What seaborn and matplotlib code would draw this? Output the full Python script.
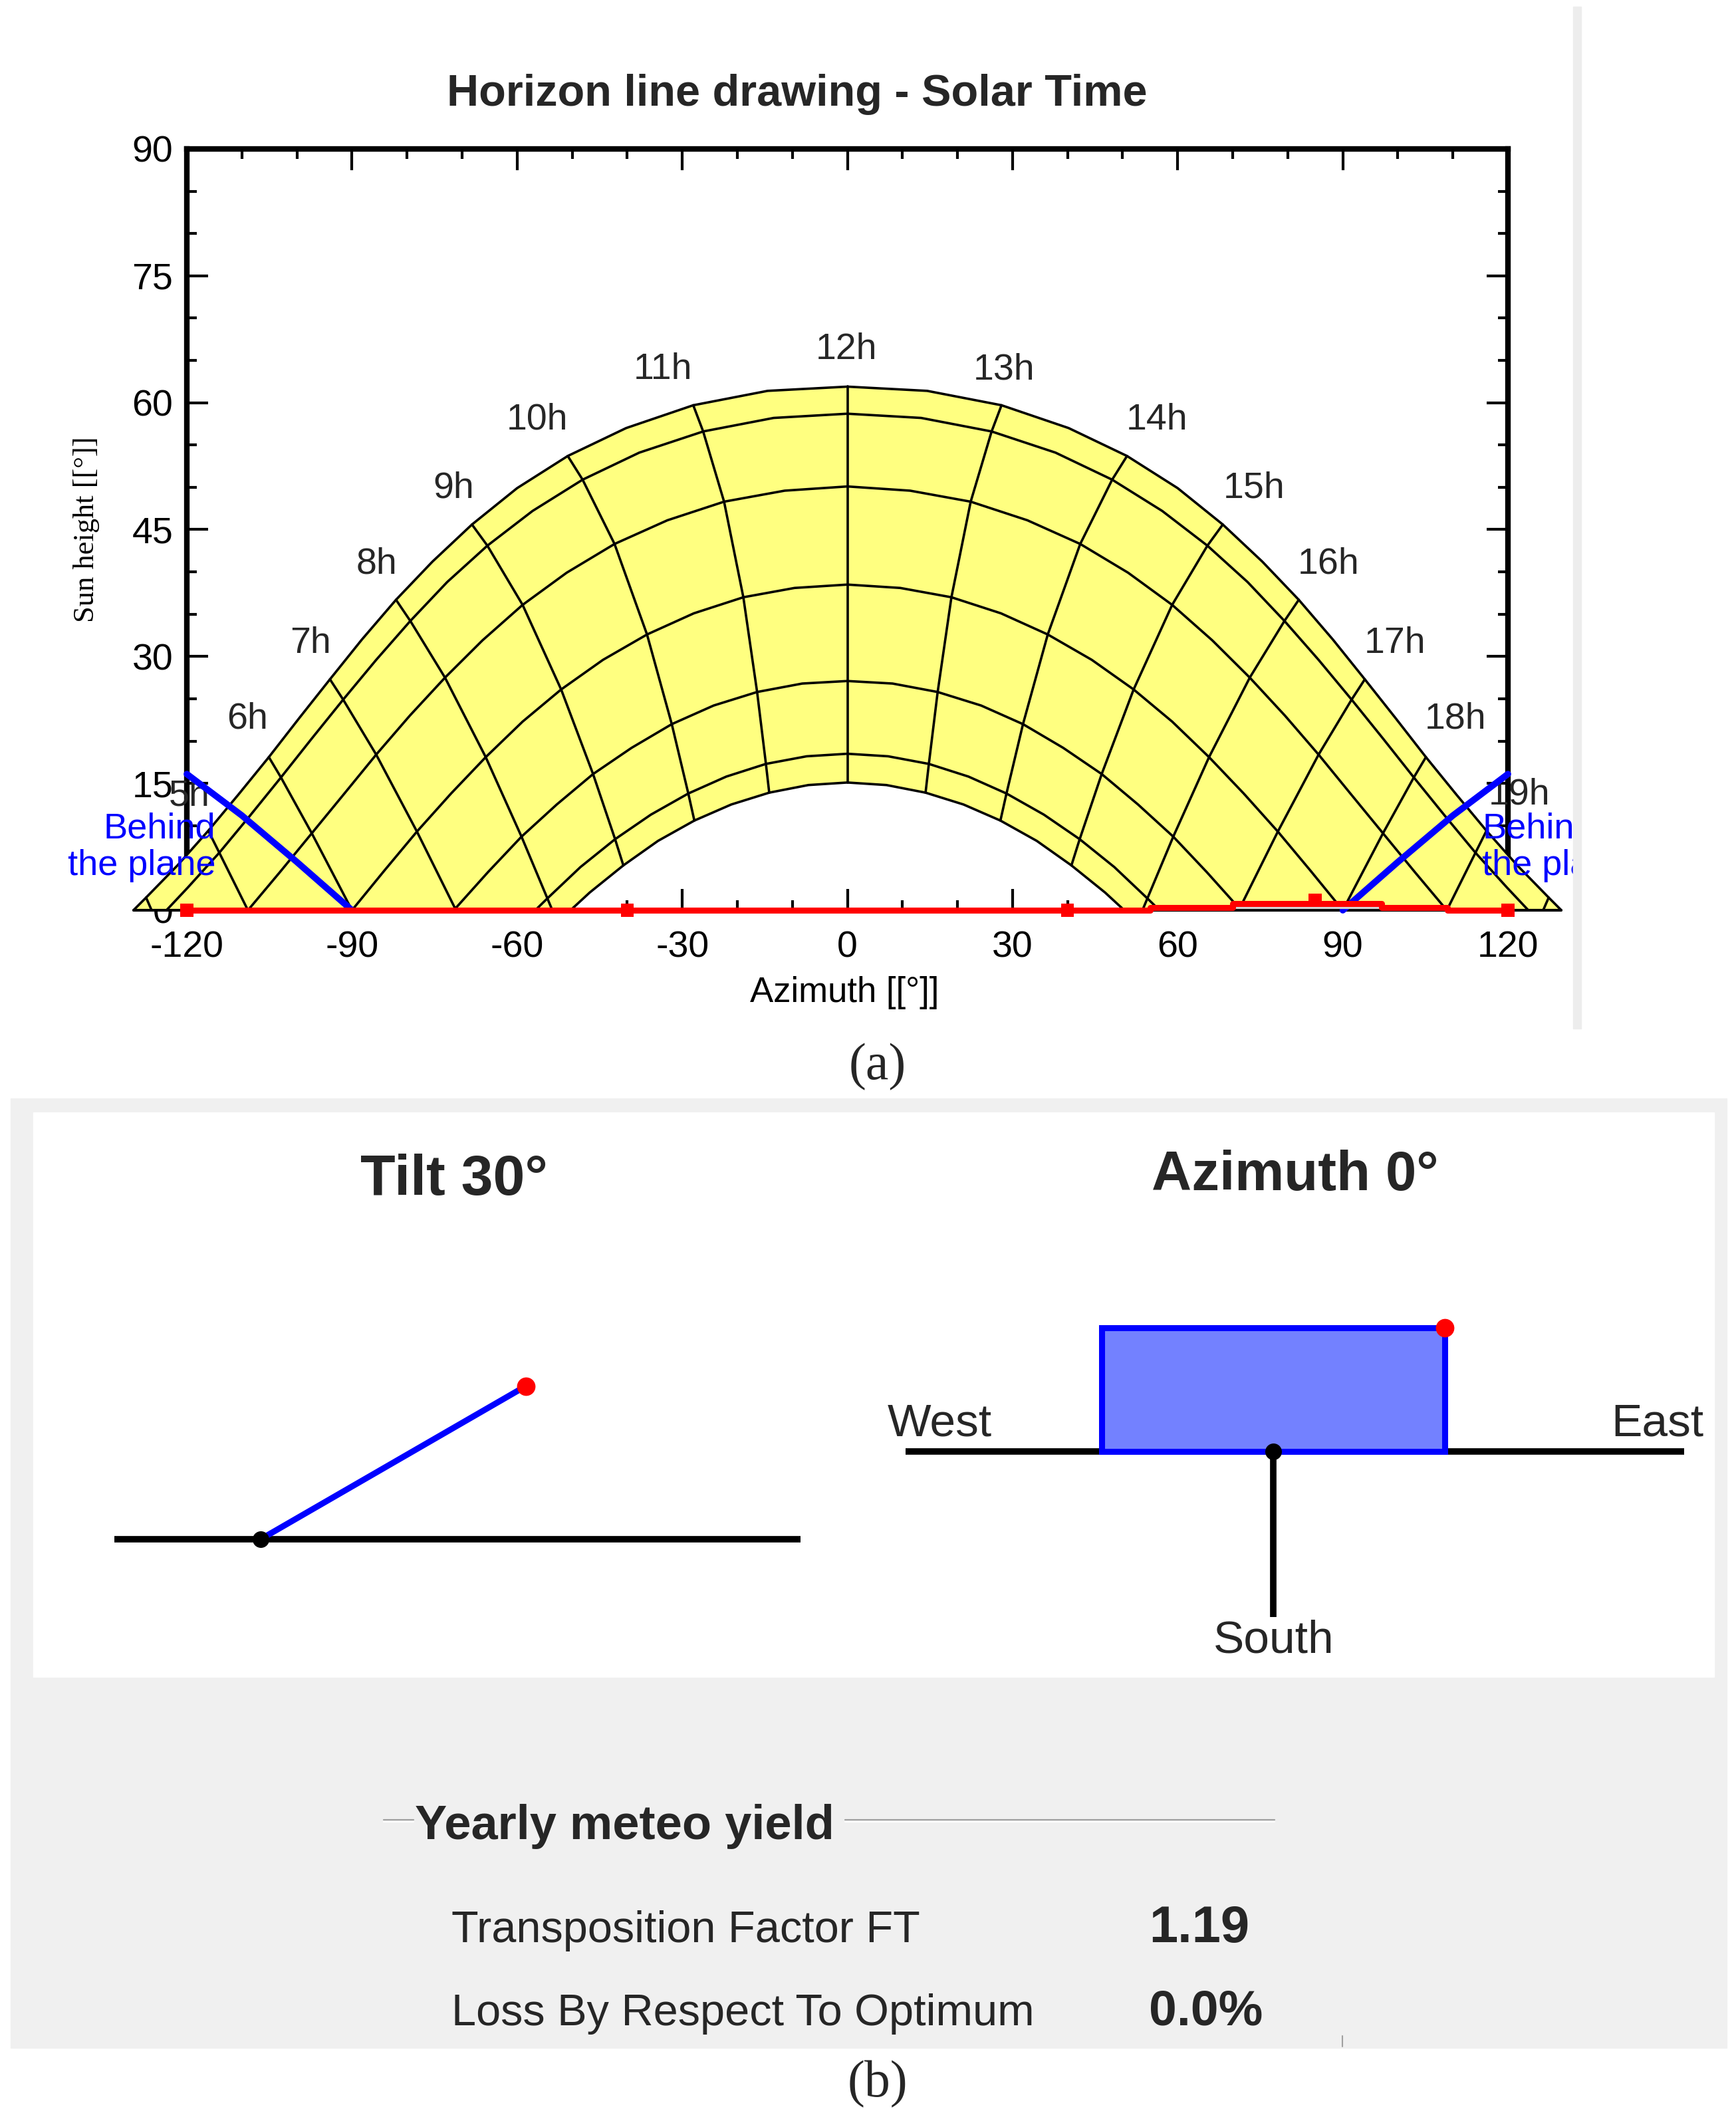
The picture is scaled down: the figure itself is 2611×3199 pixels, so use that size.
import matplotlib.pyplot as plt
import numpy as np
import pandas as pd
import seaborn as sns
from matplotlib.patches import Rectangle, Polygon
from matplotlib.lines import Line2D
from matplotlib.ticker import MultipleLocator

# sun path: afternoon half, every half hour from 12h,
# the morning side is its mirror
pm_times = [12, 12.5, 13, 13.5, 14, 14.5, 15, 15.5, 16, 16.5, 17, 17.5, 18, 18.5, 19, 19.5, 20]

jun_az = [0.0, 14.5, 28.0, 40.2, 50.8, 60.0, 68.2, 75.4, 82.0, 88.2, 94.0, 99.6, 105.1,
          110.6, 116.1, 121.7, 127.4]
jun_alt = [61.9, 61.4, 59.7, 57.0, 53.7, 49.9, 45.6, 41.2, 36.7, 32.0, 27.3, 22.7, 18.1,
           13.7, 9.4, 5.3, 1.5]
may_az = [0.0, 13.4, 26.2, 37.8, 48.1, 57.2, 65.4, 72.7, 79.4, 85.6, 91.6, 97.3, 102.9,
          108.5, 114.1, 119.8]
may_alt = [58.7, 58.2, 56.6, 54.1, 50.9, 47.2, 43.1, 38.8, 34.2, 29.6, 24.9, 20.3, 15.7,
           11.2, 6.8, 2.7]
apr_az = [0.0, 11.4, 22.4, 32.7, 42.3, 51.0, 59.0, 66.3, 73.1, 79.5, 85.6, 91.5, 97.3, 103.1]
apr_alt = [50.1, 49.6, 48.3, 46.1, 43.3, 39.9, 36.1, 31.9, 27.5, 23.0, 18.4, 13.7, 9.1, 4.5]
mar_az = [0.0, 9.6, 18.9, 27.9, 36.4, 44.4, 52.0, 59.0, 65.7, 72.0, 78.2, 84.1]
mar_alt = [38.5, 38.1, 37.0, 35.1, 32.6, 29.6, 26.1, 22.3, 18.1, 13.8, 9.3, 4.7]
feb_az = [0.0, 8.2, 16.4, 24.3, 31.9, 39.2, 46.2, 52.8, 59.2, 65.3]
feb_alt = [27.1, 26.8, 25.8, 24.2, 22.0, 19.2, 16.1, 12.5, 8.7, 4.5]
jan_az = [0.0, 7.4, 14.8, 22.0, 28.9, 35.7, 42.2, 48.5, 54.5]
jan_alt = [18.5, 18.2, 17.3, 15.8, 13.8, 11.3, 8.4, 5.1, 1.4]
dec_az = [0.0, 7.1, 14.2, 21.1, 27.8, 34.4, 40.7, 46.8]
dec_alt = [15.1, 14.8, 13.9, 12.5, 10.6, 8.2, 5.3, 2.1]

# azimuth where each date line reaches the horizon
set_az = [129.7, 123.7, 108.9, 90.0, 71.5, 56.7, 50.3]
# late hour lines that end on the horizon
end_hours = [16, 17, 18, 19, 20]
end_az = [53.6, 71.1, 90.0, 108.9, 126.4]

hour_labels = ["5h", "6h", "7h", "8h", "9h", "10h", "11h", "12h",
               "13h", "14h", "15h", "16h", "17h", "18h", "19h"]
lab_az = [-119.5, -109.0, -97.5, -85.5, -71.5, -56.4, -33.5, -0.2,
          28.5, 56.2, 73.9, 87.4, 99.5, 110.5, 122.1]
lab_alt = [13.5, 22.6, 31.5, 40.9, 49.9, 58.0, 63.9, 66.3,
           63.9, 57.9, 49.9, 40.9, 31.5, 22.6, 13.6]

# "behind the plane" limit (left side, right side is the mirror)
behind_az = [-120, -110, -100, -90]
behind_alt = [16.1, 11.2, 5.7, 0.0]

# horizon profile (red) and its points
horizon_az = [-120, -40, 40, 55, 55, 70, 70, 97, 97, 109, 109, 120]
horizon_alt = [0, 0, 0, 0, 0.3, 0.3, 0.75, 0.75, 0.3, 0.3, 0, 0]
hmark_az = [-120, -40, 40, 85, 120]
hmark_alt = [0, 0, 0, 1.2, 0]
old_az = [70, 97]
old_alt = [0.3, 0.3]

# panel (b)
tilt_deg = 30
azim_deg = 0
transp_factor = 1.19
loss_opt = 0.0

sns.set_theme(style="white")
plt.rcParams['font.family'] = ['Liberation Sans', 'DejaVu Sans']
plt.rcParams['axes.unicode_minus'] = False

W, H = 2611, 3199
fig = plt.figure(figsize=(W / 100, H / 100), dpi=100)


def fr(x0, y0, x1, y1):
    # pixel box (origin top left) -> figure fraction rect
    return [x0 / W, 1 - y1 / H, (x1 - x0) / W, (y1 - y0) / H]


# ---------------- (a) horizon line drawing ----------------
ax = fig.add_axes(fr(281, 224, 2268, 1369))

dates_az = [jun_az, may_az, apr_az, mar_az, feb_az, jan_az, dec_az]
dates_alt = [jun_alt, may_alt, apr_alt, mar_alt, feb_alt, jan_alt, dec_alt]

rows = []
for i, (az, alt, s) in enumerate(zip(dates_az, dates_alt, set_az)):
    xs = [-s] + [-a for a in az[:0:-1]] + az + [s]
    ys = [0.0] + alt[:0:-1] + alt + [0.0]
    rows += [dict(az=x, alt=y, line=f"d{i}") for x, y in zip(xs, ys)]
for k, t in enumerate(pm_times):
    if t != int(t):
        continue
    h = int(t)
    pts = [(az[k], alt[k]) for az, alt in zip(dates_az, dates_alt) if len(az) > k]
    if h in end_hours:
        pts.append((end_az[end_hours.index(h)], 0.0))
    rows += [dict(az=x, alt=y, line=f"h{h}") for x, y in pts]
    if h != 12:
        rows += [dict(az=-x, alt=y, line=f"h{24 - h}") for x, y in pts]
grid = pd.DataFrame(rows)

jun = grid[grid.line == "d0"]
dec = grid[grid.line == "d6"]
ax.fill(np.r_[jun.az.to_numpy(), dec.az.to_numpy()[::-1]],
        np.r_[jun.alt.to_numpy(), dec.alt.to_numpy()[::-1]],
        color="#FFFF80", lw=0, zorder=3, clip_on=False)

sns.lineplot(data=grid, x="az", y="alt", units="line", estimator=None, sort=False,
             color="black", lw=2.6, ax=ax, zorder=3.2)

ax.plot([-set_az[0], set_az[0]], [0, 0], color="black", lw=3, zorder=3.3)

blue = pd.DataFrame({"az": behind_az + [-a for a in behind_az[::-1]],
                     "alt": behind_alt + behind_alt[::-1],
                     "side": ["l"] * 4 + ["r"] * 4})
sns.lineplot(data=blue, x="az", y="alt", units="side", estimator=None, sort=False,
             color="#0000FF", lw=7, ax=ax, zorder=5)

ax.plot(old_az, old_alt, color="#D4D4D4", lw=3, zorder=5.5)
sns.lineplot(x=horizon_az, y=horizon_alt, estimator=None, sort=False,
             color="#FF0000", lw=6.5, ax=ax, zorder=6)
sns.scatterplot(x=hmark_az, y=hmark_alt, marker="s", s=200, color="#FF0000",
                edgecolor="none", ax=ax, zorder=6.5)

for art in ax.lines + ax.collections:
    art.set_clip_on(False)

for t, x, y in zip(hour_labels, lab_az, lab_alt):
    ax.text(x, y, t, fontsize=40, ha="center", va="center", zorder=4)

ax.text(-114.8, 8.55, "Behind", color="#0000FF", fontsize=39, ha="right", zorder=4)
ax.text(-114.8, 4.2, "the plane", color="#0000FF", fontsize=39, ha="right", zorder=4)
ax.text(115.3, 8.55, "Behind", color="#0000FF", fontsize=39, ha="left", zorder=4)
ax.text(115.3, 4.2, "the plane", color="#0000FF", fontsize=39, ha="left", zorder=4)

ax.set_xlim(-120, 120)
ax.set_ylim(0, 90)
ax.set_xticks(range(-120, 121, 30))
ax.set_yticks(range(0, 91, 15))
ax.xaxis.set_minor_locator(MultipleLocator(10))
ax.yaxis.set_minor_locator(MultipleLocator(5))
ax.tick_params(which="both", direction="in", top=True, right=True, bottom=True, left=True,
               width=3, color="black", labelsize=40, labelcolor="black")
ax.tick_params(which="major", length=23)
ax.tick_params(which="minor", length=11)
ax.tick_params(axis="x", pad=22)
ax.tick_params(axis="y", pad=15)
for sp in ax.spines.values():
    sp.set_linewidth(6)
    sp.set_color("black")
ax.spines["bottom"].set_visible(False)

ax.set_xlabel("Azimuth [[°]]", fontsize=38, color="black")
ax.xaxis.set_label_coords(0.498, -0.0865)
ax.set_ylabel("Sun height [[°]]", fontsize=32, color="black",
              family=["Liberation Serif", "DejaVu Serif"])
ax.yaxis.set_label_coords(-0.066, 0.5)

fig.text(1199 / W, 1 - 159 / H, "Horizon line drawing - Solar Time", fontsize=48,
         fontweight="bold", ha="center", va="baseline")

# window edge on the right of (a)
fig.add_artist(Rectangle((2366 / W, 1 - 1600 / H), (W - 2366) / W, 1600 / H,
                         transform=fig.transFigure, color="white", zorder=1.1))
fig.add_artist(Rectangle((2366 / W, 1 - 1547 / H), 12 / W, (1547 - 10) / H,
                         transform=fig.transFigure, color="#EDEDED", zorder=1.2))

serif = ["Liberation Serif", "DejaVu Serif"]
fig.text(1320 / W, 1 - 1605 / H, "(a)", fontsize=56, family=serif, ha="center", va="center")
fig.text(1320 / W, 1 - 3135 / H, "(b)", fontsize=56, family=serif, ha="center", va="center")

# ---------------- (b) orientation panel ----------------
fig.add_artist(Rectangle((16 / W, 1 - 3080 / H), (2597 - 16) / W, (3080 - 1652) / H,
                         transform=fig.transFigure, color="#F0F0F0", zorder=-1))
fig.add_artist(Rectangle((50 / W, 1 - 2522 / H), (2578 - 50) / W, (2522 - 1673) / H,
                         transform=fig.transFigure, color="white", zorder=-0.9))

# tilt sketch (units = pixels, pivot at origin)
axt = fig.add_axes(fr(100, 1700, 1300, 2500))
axt.set_xlim(-291.6, 908.4)
axt.set_ylim(-184.8, 615.2)
axt.axis("off")
axt.set_zorder(2)
L = 461
tx, ty = L * np.cos(np.radians(tilt_deg)), L * np.sin(np.radians(tilt_deg))
axt.plot([-220, 812], [0, 0], color="black", lw=7, solid_capstyle="butt")
axt.plot([0, tx], [0, ty], color="#0000FF", lw=6.5, solid_capstyle="butt")
axt.plot([0], [0], "o", color="black", ms=17)
axt.plot([tx], [ty], "o", color="#FF0000", ms=19)

# azimuth sketch (plan view)
axa = fig.add_axes(fr(1300, 1700, 2578, 2510))
axa.set_xlim(-615.4, 662.6)
axa.set_ylim(-327.4, 482.6)
axa.axis("off")
axa.set_zorder(2)
a = np.radians(azim_deg)
rot = np.array([[np.cos(a), -np.sin(a)], [np.sin(a), np.cos(a)]])
corners = np.array([[-258, 0], [258, 0], [258, 186], [-258, 186]]) @ rot.T
axa.plot([-553, 618], [0, 0], color="black", lw=7, solid_capstyle="butt", zorder=1)
axa.plot([0, 0], [0, -249], color="black", lw=7, solid_capstyle="butt", zorder=1)
axa.add_patch(Polygon(corners, closed=True, facecolor="#7381FF", edgecolor="#0000FF",
                      lw=6.5, zorder=2))
axa.plot([0], [0], "o", color="black", ms=17, zorder=3)
axa.plot([corners[2, 0]], [corners[2, 1]], "o", color="#FF0000", ms=19, zorder=3)
axa.text(-502, 41, "West", fontsize=50, ha="center", va="center")
axa.text(577, 41, "East", fontsize=50, ha="center", va="center")
axa.text(0, -285, "South", fontsize=50, ha="center", va="center")

fig.text(683 / W, 1 - 1775 / H, f"Tilt {tilt_deg}°", fontsize=62, fontweight="bold",
         ha="center", va="center")
fig.text(1948 / W, 1 - 1768 / H, f"Azimuth {azim_deg}°", fontsize=60, fontweight="bold",
         ha="center", va="center")

# yearly meteo yield group
for x0, x1 in [(577, 622), (1271, 1917)]:
    fig.add_artist(Line2D([x0 / W, x1 / W], [1 - 2737 / H] * 2, transform=fig.transFigure,
                          color="#A0A0A0", lw=1.6))
    fig.add_artist(Line2D([x0 / W, x1 / W], [1 - 2740 / H] * 2, transform=fig.transFigure,
                          color="white", lw=1.6))
fig.add_artist(Line2D([2019 / W] * 2, [1 - 3062 / H, 1 - 3078 / H], transform=fig.transFigure,
                      color="#A0A0A0", lw=1.5))
fig.text(624 / W, 1 - 2766 / H, "Yearly meteo yield", fontsize=52, fontweight="bold",
         ha="left", va="baseline")
fig.text(679 / W, 1 - 2921 / H, "Transposition Factor FT", fontsize=48,
         ha="left", va="baseline")
fig.text(1728 / W, 1 - 2921 / H, f"{transp_factor:.2f}", fontsize=56, fontweight="bold",
         ha="left", va="baseline")
fig.text(679 / W, 1 - 3046 / H, "Loss By Respect To Optimum", fontsize=48,
         ha="left", va="baseline")
fig.text(1728 / W, 1 - 3046 / H, f"{loss_opt:.1f}%", fontsize=54, fontweight="bold",
         ha="left", va="baseline")

fig.savefig("out.png", dpi=100)
